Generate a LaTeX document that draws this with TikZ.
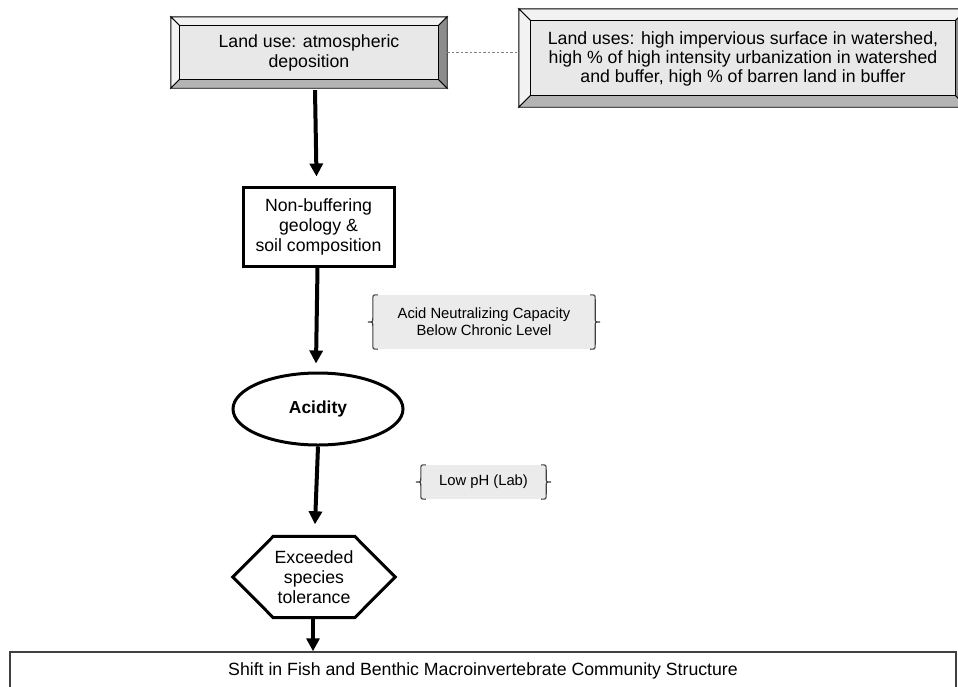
\documentclass[tikz,border=0pt]{standalone}
\usepackage{fontspec}
\setmainfont{Liberation Sans}
\usetikzlibrary{calc,arrows.meta,shapes.geometric}
\definecolor{bevtop}{HTML}{F2F2F2}
\definecolor{bevbot}{HTML}{B4B4B4}
\definecolor{bevright}{HTML}{8C8C8C}
\definecolor{bevinner}{HTML}{E8E8E8}
\definecolor{notefill}{HTML}{EBEBEB}
\definecolor{bracecol}{HTML}{404040}
\definecolor{dotcol}{HTML}{808080}
\newcommand\mybevel[2]{%
  \fill[bevtop,draw=black,line width=0.9] (#1.north west) -- (#1.north east) -- ($(#1.north east)+(-#2,#2)$) -- ($(#1.north west)+(#2,#2)$) -- cycle;
  \fill[bevtop,draw=black,line width=0.9] (#1.north west) -- ($(#1.north west)+(#2,#2)$) -- ($(#1.south west)+(#2,-#2)$) -- (#1.south west) -- cycle;
  \fill[bevbot,draw=black,line width=0.9] (#1.south west) -- ($(#1.south west)+(#2,-#2)$) -- ($(#1.south east)+(-#2,-#2)$) -- (#1.south east) -- cycle;
  \fill[bevright,draw=black,line width=0.9] (#1.north east) -- ($(#1.north east)+(-#2,#2)$) -- ($(#1.south east)+(-#2,-#2)$) -- (#1.south east) -- cycle;
  \fill[bevinner,draw=black,line width=0.9] ($(#1.north west)+(#2,#2)$) rectangle ($(#1.south east)+(-#2,-#2)$);
}
\newcommand\mybraces[1]{%
  \draw[bracecol,line width=1.1] ($(#1.north west)+(5,0)$) .. controls (#1.north west) .. ($(#1.north west)+(0,5)$) -- ($(#1.west)+(0,-4)$) .. controls (#1.west) .. ($(#1.west)+(-5,0)$) .. controls (#1.west) .. ($(#1.west)+(0,4)$) -- ($(#1.south west)+(0,-5)$) .. controls (#1.south west) .. ($(#1.south west)+(5,0)$);
  \draw[bracecol,line width=1.1] ($(#1.north east)+(-5,0)$) .. controls (#1.north east) .. ($(#1.north east)+(0,5)$) -- ($(#1.east)+(0,-4)$) .. controls (#1.east) .. ($(#1.east)+(5,0)$) .. controls (#1.east) .. ($(#1.east)+(0,4)$) -- ($(#1.south east)+(0,-5)$) .. controls (#1.south east) .. ($(#1.south east)+(-5,0)$);
}
\begin{document}
\begin{tikzpicture}[x=1pt,y=-1pt,
  txt/.style={font=\fontsize{17.7}{20}\selectfont,align=center,inner sep=0pt},
  smalltxt/.style={font=\fontsize{14.8}{17}\selectfont,align=center,inner sep=0pt},
  arr/.style={line width=4,-{Triangle[width=13pt,length=13pt]}},
  thickbox/.style={draw=black,line width=3}]
\useasboundingbox (0,0) rectangle (958,686);
\clip (0,0) rectangle (958,686);
\fill[white] (0,0) rectangle (958,686);

% bevel boxes
\node[minimum width=276,minimum height=71,inner sep=0] (b1) at (309,52.5) {};
\node[minimum width=448,minimum height=98,inner sep=0] (b2) at (743,58) {};
\mybevel{b1}{9}
\mybevel{b2}{12}
\node[txt] (t1) at (b1) {Land use: atmospheric\\deposition};
\node[txt,font=\fontsize{17.7}{19}\selectfont] (t2) at ($(b2)+(0,1)$) {Land uses: high impervious surface in watershed,\\high \% of high intensity urbanization in watershed\\and buffer, high \% of barren land in buffer};
\draw[dotcol,line width=1.2,dash pattern=on 2.5 off 2] (b1.east) -- (b1.east -| b2.west);

% chain
\node[thickbox,minimum width=151,minimum height=79,txt] (b3) at (318.5,226.5) {Non-buffering\\geology \&\\soil composition};
\node[thickbox,ellipse,minimum width=170,minimum height=72,inner sep=0,font=\fontsize{17.4}{20}\selectfont\bfseries] (acid) at (318,409) {Acidity};
\node[minimum width=81,minimum height=81,inner sep=0,txt] (hex) at (314,577) {Exceeded\\species\\tolerance};
\draw[line width=3,line join=miter] (hex.north west) -- (hex.north east) -- ($(hex.east)+(40.5,0)$) -- (hex.south east) -- (hex.south west) -- ($(hex.west)+(-40.5,0)$) -- cycle;
\node[draw=bracecol,line width=1.5,minimum width=946,minimum height=38,inner sep=0,txt] (shift) at (483,671) {Shift in Fish and Benthic Macroinvertebrate Community Structure};

% notes
\node[fill=notefill,minimum width=222,minimum height=54,inner sep=0,smalltxt] (anc) at (484,322) {Acid Neutralizing Capacity\\Below Chronic Level};
\mybraces{anc}
\node[fill=notefill,minimum width=125,minimum height=34,inner sep=0,smalltxt] (ph) at (483.5,482) {Low pH (Lab)};
\mybraces{ph}

% arrows
\draw[arr] ($(b1.south)+(6,2)$) -- ($(b3.north)+(-2,-9)$);
\draw[arr] ($(b3.south)+(-1,0)$) -- ($(acid.north)+(-2,-8)$);
\draw[arr] (acid.south) -- ($(hex.north)+(1,-12)$);
\draw[arr] ($(hex.south)+(-1,0)$) -- ($(shift.north -| hex.south)+(-1,0)$);
\end{tikzpicture}
\end{document}
